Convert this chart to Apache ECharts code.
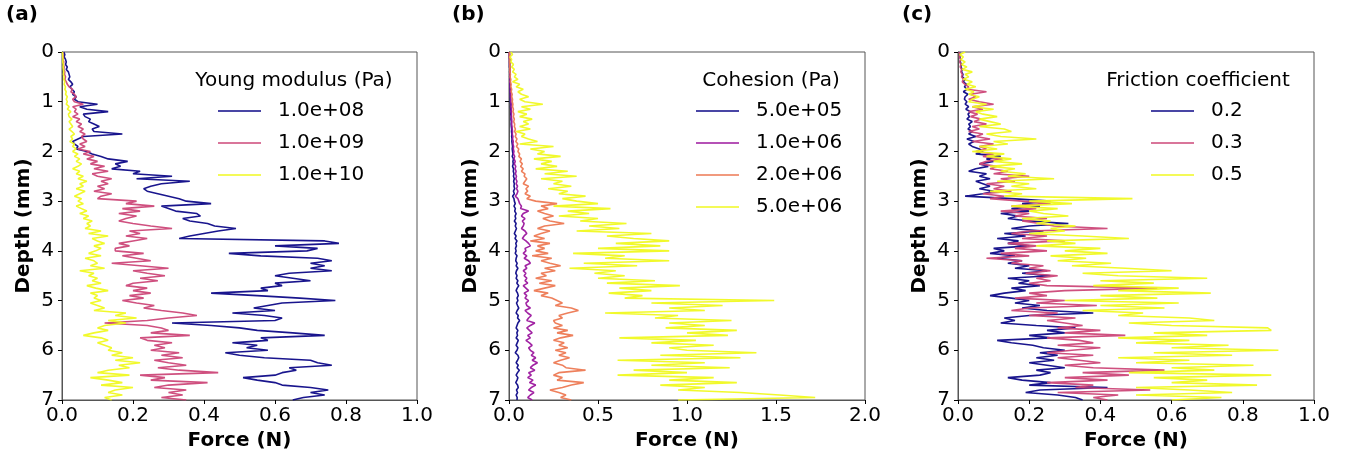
<!DOCTYPE html>
<html><head><meta charset="utf-8">
<script src="https://cdn.jsdelivr.net/npm/echarts@6/dist/echarts.min.js"></script>
<style>html,body{margin:0;padding:0;background:#fff}#c{width:1346px;height:458px}</style>
</head><body><div id="c"></div>
<script>
// Depth samples (mm)
const depth = [
0,0.05,0.1,0.15,0.2,0.25,0.3,0.35,0.4,0.45,
0.5,0.55,0.6,0.65,0.7,0.75,0.8,0.85,0.9,0.95,
1,1.05,1.1,1.15,1.2,1.25,1.3,1.35,1.4,1.45,
1.5,1.55,1.6,1.65,1.7,1.75,1.8,1.85,1.9,1.95,
2,2.05,2.1,2.15,2.2,2.25,2.3,2.35,2.4,2.45,
2.5,2.55,2.6,2.65,2.7,2.75,2.8,2.85,2.9,2.95,
3,3.05,3.1,3.15,3.2,3.25,3.3,3.35,3.4,3.45,
3.5,3.55,3.6,3.65,3.7,3.75,3.8,3.85,3.9,3.95,
4,4.05,4.1,4.15,4.2,4.25,4.3,4.35,4.4,4.45,
4.5,4.55,4.6,4.65,4.7,4.75,4.8,4.85,4.9,4.95,
5,5.05,5.1,5.15,5.2,5.25,5.3,5.35,5.4,5.45,
5.5,5.55,5.6,5.65,5.7,5.75,5.8,5.85,5.9,5.95,
6,6.05,6.1,6.15,6.2,6.25,6.3,6.35,6.4,6.45,
6.5,6.55,6.6,6.65,6.7,6.75,6.8,6.85,6.9,6.95,
7];

// Panel (a): Young modulus
const youngNames = ['1.0e+08','1.0e+09','1.0e+10'];
const young_1e8 = [
0.005,0.008,0.006,0.010,0.012,0.010,0.015,0.012,0.018,0.020,
0.022,0.018,0.025,0.030,0.022,0.028,0.035,0.030,0.040,0.035,
0.045,0.100,0.050,0.070,0.130,0.060,0.065,0.080,0.075,0.090,
0.105,0.085,0.090,0.170,0.060,0.045,0.030,0.035,0.045,0.040,
0.070,0.085,0.110,0.130,0.185,0.150,0.165,0.140,0.220,0.200,
0.310,0.210,0.360,0.280,0.250,0.230,0.240,0.270,0.300,0.330,
0.350,0.420,0.280,0.300,0.320,0.380,0.390,0.340,0.360,0.410,
0.430,0.490,0.440,0.400,0.360,0.330,0.740,0.780,0.600,0.720,
0.690,0.470,0.560,0.720,0.760,0.700,0.740,0.700,0.760,0.640,
0.600,0.650,0.700,0.600,0.620,0.560,0.580,0.420,0.550,0.670,
0.770,0.620,0.580,0.540,0.600,0.480,0.570,0.620,0.600,0.310,
0.420,0.500,0.550,0.650,0.740,0.560,0.580,0.480,0.550,0.520,
0.580,0.460,0.500,0.570,0.700,0.720,0.760,0.640,0.660,0.620,
0.600,0.510,0.550,0.600,0.620,0.700,0.750,0.700,0.740,0.680,
0.650];
const young_1e9 = [
0.002,0.003,0.004,0.003,0.005,0.004,0.006,0.005,0.008,0.007,
0.010,0.008,0.012,0.015,0.020,0.030,0.025,0.035,0.040,0.030,
0.035,0.060,0.030,0.040,0.035,0.045,0.030,0.050,0.040,0.055,
0.045,0.060,0.050,0.065,0.055,0.060,0.070,0.050,0.065,0.045,
0.080,0.060,0.090,0.070,0.100,0.080,0.120,0.090,0.130,0.085,
0.100,0.140,0.110,0.130,0.100,0.120,0.090,0.140,0.110,0.100,
0.210,0.180,0.260,0.170,0.220,0.160,0.210,0.180,0.160,0.200,
0.250,0.310,0.190,0.220,0.180,0.240,0.200,0.160,0.190,0.150,
0.150,0.230,0.170,0.210,0.250,0.140,0.220,0.300,0.200,0.240,
0.290,0.220,0.270,0.200,0.180,0.240,0.200,0.250,0.190,0.230,
0.170,0.210,0.260,0.230,0.280,0.340,0.380,0.300,0.240,0.120,
0.240,0.280,0.300,0.250,0.360,0.220,0.240,0.310,0.260,0.290,
0.250,0.330,0.280,0.340,0.260,0.300,0.350,0.270,0.330,0.440,
0.220,0.290,0.250,0.410,0.300,0.260,0.350,0.300,0.340,0.280,
0.350];
const young_1e10 = [
0.001,0.002,0.002,0.003,0.002,0.004,0.003,0.004,0.005,0.004,
0.006,0.005,0.008,0.006,0.010,0.008,0.012,0.010,0.015,0.012,
0.015,0.012,0.020,0.015,0.025,0.018,0.020,0.028,0.020,0.025,
0.030,0.020,0.028,0.035,0.025,0.030,0.022,0.035,0.030,0.040,
0.030,0.045,0.035,0.050,0.040,0.055,0.045,0.030,0.050,0.040,
0.060,0.045,0.070,0.050,0.060,0.040,0.065,0.050,0.035,0.055,
0.045,0.060,0.040,0.055,0.070,0.050,0.075,0.060,0.085,0.070,
0.080,0.065,0.110,0.075,0.130,0.085,0.100,0.120,0.090,0.110,
0.095,0.075,0.110,0.065,0.090,0.100,0.080,0.120,0.050,0.090,
0.075,0.100,0.085,0.110,0.070,0.095,0.130,0.080,0.100,0.090,
0.110,0.080,0.100,0.120,0.090,0.180,0.150,0.210,0.130,0.180,
0.120,0.100,0.130,0.090,0.060,0.110,0.130,0.100,0.120,0.140,
0.130,0.170,0.140,0.200,0.150,0.220,0.160,0.190,0.130,0.100,
0.190,0.080,0.130,0.170,0.110,0.200,0.150,0.130,0.170,0.120,
0.140];

// Panel (b): Cohesion
const cohesionNames = ['5.0e+05','1.0e+06','2.0e+06','5.0e+06'];
const coh_5e5 = [
0.002,0.003,0.002,0.004,0.003,0.004,0.003,0.005,0.004,0.005,
0.004,0.006,0.005,0.006,0.005,0.007,0.006,0.008,0.007,0.008,
0.008,0.010,0.009,0.010,0.011,0.010,0.012,0.011,0.013,0.012,
0.013,0.015,0.014,0.016,0.015,0.017,0.016,0.018,0.020,0.018,
0.020,0.022,0.018,0.025,0.022,0.024,0.020,0.026,0.024,0.028,
0.025,0.030,0.026,0.030,0.028,0.032,0.025,0.030,0.020,0.028,
0.030,0.035,0.028,0.036,0.032,0.040,0.034,0.038,0.030,0.040,
0.035,0.042,0.036,0.030,0.040,0.034,0.045,0.038,0.042,0.036,
0.040,0.035,0.045,0.040,0.038,0.046,0.040,0.050,0.042,0.038,
0.045,0.040,0.050,0.044,0.055,0.046,0.040,0.048,0.052,0.045,
0.050,0.042,0.048,0.055,0.046,0.040,0.052,0.048,0.060,0.050,
0.045,0.040,0.050,0.044,0.048,0.040,0.052,0.046,0.040,0.050,
0.045,0.035,0.050,0.055,0.048,0.040,0.052,0.045,0.058,0.048,
0.040,0.050,0.045,0.038,0.048,0.052,0.042,0.048,0.040,0.046,
0.045];
const coh_1e6 = [
0.002,0.002,0.003,0.003,0.004,0.003,0.004,0.005,0.004,0.005,
0.005,0.006,0.005,0.007,0.006,0.008,0.007,0.009,0.008,0.010,
0.010,0.012,0.011,0.013,0.012,0.014,0.013,0.015,0.016,0.015,
0.017,0.018,0.020,0.018,0.022,0.020,0.024,0.022,0.026,0.024,
0.028,0.025,0.032,0.028,0.035,0.030,0.038,0.034,0.040,0.036,
0.042,0.038,0.045,0.040,0.048,0.042,0.050,0.045,0.035,0.050,
0.055,0.060,0.070,0.065,0.110,0.080,0.070,0.090,0.075,0.085,
0.080,0.070,0.090,0.100,0.085,0.075,0.095,0.110,0.120,0.090,
0.095,0.080,0.100,0.085,0.110,0.120,0.090,0.100,0.080,0.095,
0.085,0.100,0.090,0.105,0.080,0.095,0.110,0.085,0.100,0.090,
0.110,0.095,0.100,0.120,0.090,0.105,0.125,0.110,0.100,0.145,
0.120,0.100,0.115,0.130,0.105,0.120,0.095,0.115,0.130,0.110,
0.120,0.140,0.125,0.150,0.130,0.160,0.135,0.120,0.145,0.110,
0.125,0.105,0.135,0.115,0.150,0.125,0.110,0.140,0.120,0.105,
0.130];
const coh_2e6 = [
0.002,0.003,0.002,0.004,0.003,0.005,0.004,0.006,0.005,0.008,
0.006,0.010,0.008,0.012,0.010,0.015,0.012,0.018,0.015,0.020,
0.018,0.022,0.020,0.025,0.022,0.028,0.024,0.030,0.026,0.032,
0.030,0.036,0.032,0.040,0.035,0.045,0.038,0.050,0.042,0.055,
0.050,0.060,0.055,0.070,0.062,0.075,0.065,0.080,0.070,0.090,
0.085,0.100,0.090,0.080,0.110,0.095,0.105,0.090,0.120,0.100,
0.150,0.270,0.180,0.220,0.160,0.200,0.250,0.190,0.230,0.310,
0.200,0.160,0.230,0.180,0.140,0.200,0.120,0.230,0.160,0.200,
0.150,0.220,0.130,0.240,0.180,0.230,0.290,0.200,0.260,0.180,
0.210,0.150,0.240,0.170,0.260,0.200,0.140,0.220,0.180,0.240,
0.270,0.300,0.260,0.350,0.390,0.330,0.280,0.300,0.250,0.260,
0.300,0.250,0.330,0.270,0.360,0.290,0.250,0.310,0.280,0.330,
0.260,0.320,0.280,0.340,0.290,0.250,0.300,0.320,0.430,0.280,
0.250,0.300,0.270,0.420,0.350,0.300,0.230,0.280,0.320,0.290,
0.350];
const coh_5e6 = [
0.010,0.020,0.005,0.015,0.010,0.025,0.015,0.030,0.020,0.040,
0.030,0.050,0.020,0.060,0.040,0.080,0.050,0.070,0.110,0.060,
0.090,0.190,0.070,0.120,0.050,0.100,0.060,0.130,0.080,0.110,
0.060,0.120,0.040,0.090,0.070,0.110,0.160,0.060,0.250,0.120,
0.200,0.160,0.290,0.140,0.240,0.180,0.270,0.150,0.330,0.200,
0.380,0.180,0.300,0.250,0.350,0.220,0.330,0.280,0.430,0.300,
0.380,0.500,0.250,0.570,0.330,0.450,0.280,0.500,0.400,0.660,
0.450,0.620,0.380,0.800,0.550,0.700,0.900,0.600,0.850,0.500,
0.900,0.360,0.650,0.540,0.900,0.420,0.720,0.340,0.600,0.480,
0.650,0.500,0.820,0.550,0.960,0.620,0.800,0.560,0.750,0.650,
1.490,0.800,1.200,0.900,1.100,0.540,0.950,0.820,1.250,0.900,
1.100,0.880,1.280,1.000,1.230,0.620,1.050,0.800,1.150,0.900,
1.000,1.390,0.850,1.300,0.610,1.100,0.800,1.240,0.700,1.000,
0.610,1.150,0.900,1.280,0.850,1.100,0.950,1.300,1.520,1.720,
0.950];

// Panel (c): Friction coefficient
const frictionNames = ['0.2','0.3','0.5'];
const fric_02 = [
0.004,0.006,0.005,0.008,0.006,0.010,0.008,0.012,0.010,0.014,
0.012,0.020,0.015,0.024,0.018,0.025,0.015,0.028,0.020,0.018,
0.025,0.020,0.030,0.022,0.035,0.028,0.032,0.025,0.040,0.030,
0.035,0.028,0.040,0.030,0.050,0.025,0.045,0.030,0.040,0.060,
0.070,0.050,0.120,0.080,0.100,0.060,0.085,0.050,0.030,0.080,
0.060,0.090,0.050,0.070,0.090,0.060,0.100,0.070,0.020,0.150,
0.260,0.180,0.230,0.150,0.200,0.120,0.170,0.140,0.200,0.310,
0.200,0.150,0.240,0.130,0.190,0.110,0.170,0.140,0.200,0.100,
0.130,0.090,0.160,0.110,0.180,0.140,0.200,0.160,0.250,0.180,
0.260,0.140,0.200,0.170,0.230,0.150,0.190,0.130,0.090,0.150,
0.200,0.160,0.230,0.180,0.250,0.380,0.200,0.130,0.160,0.120,
0.220,0.330,0.250,0.300,0.200,0.260,0.110,0.150,0.210,0.240,
0.300,0.230,0.280,0.220,0.270,0.200,0.250,0.300,0.220,0.260,
0.230,0.140,0.180,0.260,0.200,0.420,0.230,0.190,0.280,0.330,
0.350];
const fric_03 = [
0.003,0.005,0.004,0.007,0.005,0.008,0.006,0.010,0.008,0.012,
0.010,0.015,0.012,0.020,0.030,0.025,0.080,0.035,0.050,0.030,
0.060,0.100,0.040,0.070,0.030,0.055,0.035,0.065,0.045,0.080,
0.040,0.060,0.030,0.070,0.050,0.090,0.040,0.100,0.060,0.080,
0.050,0.100,0.070,0.125,0.080,0.060,0.110,0.090,0.140,0.100,
0.200,0.120,0.160,0.080,0.130,0.100,0.150,0.070,0.130,0.090,
0.180,0.260,0.150,0.220,0.120,0.200,0.160,0.250,0.180,0.230,
0.270,0.420,0.200,0.150,0.250,0.180,0.300,0.140,0.220,0.160,
0.250,0.120,0.200,0.080,0.180,0.150,0.240,0.200,0.260,0.190,
0.280,0.220,0.260,0.200,0.250,0.560,0.300,0.200,0.250,0.160,
0.300,0.220,0.390,0.200,0.150,0.280,0.200,0.330,0.250,0.300,
0.350,0.280,0.400,0.300,0.470,0.250,0.340,0.380,0.280,0.400,
0.320,0.250,0.380,0.280,0.340,0.400,0.300,0.380,0.580,0.350,
0.480,0.300,0.420,0.250,0.380,0.330,0.540,0.280,0.450,0.380,
0.420];
const fric_05 = [
0.020,0.005,0.015,0.008,0.020,0.010,0.025,0.012,0.040,0.020,
0.030,0.015,0.040,0.025,0.050,0.020,0.045,0.030,0.060,0.040,
0.030,0.080,0.040,0.100,0.050,0.070,0.110,0.060,0.090,0.120,
0.060,0.130,0.150,0.080,0.120,0.220,0.100,0.140,0.060,0.110,
0.040,0.130,0.080,0.150,0.100,0.180,0.090,0.160,0.120,0.190,
0.140,0.270,0.110,0.200,0.150,0.220,0.090,0.180,0.130,0.490,
0.200,0.320,0.150,0.280,0.200,0.240,0.310,0.180,0.260,0.220,
0.330,0.260,0.300,0.200,0.350,0.480,0.250,0.330,0.220,0.400,
0.300,0.420,0.260,0.360,0.280,0.430,0.320,0.470,0.600,0.350,
0.450,0.700,0.400,0.550,0.380,0.620,0.450,0.710,0.400,0.560,
0.300,0.620,0.400,0.580,0.350,0.520,0.450,0.650,0.720,0.480,
0.600,0.870,0.880,0.550,0.700,0.450,0.650,0.500,0.760,0.600,
0.900,0.550,0.770,0.450,0.650,0.500,0.830,0.600,0.720,0.480,
0.880,0.550,0.700,0.600,0.840,0.500,0.650,0.770,0.500,0.740,
0.600];

const xTicksMax = [1.0, 2.0, 1.0];
const xTicksStep = [0.2, 0.5, 0.2];

const C0 = '#0d0887', C33 = '#9c179e', C50 = '#cc4778', C67 = '#ed7953', C100 = '#f0f921';
const FONT = '"DejaVu Sans", sans-serif';

const panels = [
  {names: youngNames, values: [young_1e8, young_1e9, young_1e10], colors: [C0, C50, C100]},
  {names: cohesionNames, values: [coh_5e5, coh_1e6, coh_2e6, coh_5e6], colors: [C0, C33, C67, C100]},
  {names: frictionNames, values: [fric_02, fric_03, fric_05], colors: [C0, C50, C100]}
];

const gridPos = [
  {left: 62, top: 52, width: 355, height: 348},
  {left: 509, top: 52, width: 356, height: 348},
  {left: 958, top: 52, width: 356, height: 348}
];
const legendPos = [{left: 218, top: 101}, {left: 696, top: 101}, {left: 1151, top: 101}];
const legendTitles = [
  {text: 'Young modulus (Pa)', x: 294},
  {text: 'Cohesion (Pa)', x: 771},
  {text: 'Friction coefficient', x: 1198}
];
const panelLabels = [{text: '(a)', x: 6}, {text: '(b)', x: 452}, {text: '(c)', x: 902}];

const grid = [], xAxis = [], yAxis = [], series = [], legend = [], graphic = [];
panels.forEach((p, i) => {
  grid.push(Object.assign({show: true, borderColor: '#555', borderWidth: 1, backgroundColor: 'transparent'}, gridPos[i]));
  xAxis.push({
    gridIndex: i, type: 'value', min: 0, max: xTicksMax[i], interval: xTicksStep[i],
    name: 'Force (N)', nameLocation: 'middle', nameGap: 31,
    nameTextStyle: {fontFamily: FONT, fontSize: 20, fontWeight: 'bold', color: '#000'},
    axisLine: {show: true, onZero: false, lineStyle: {color: '#555', width: 1}},
    axisTick: {show: true, length: 4, lineStyle: {color: '#000', width: 1}},
    axisLabel: {fontFamily: FONT, fontSize: 20, color: '#000', margin: 6, formatter: v => v.toFixed(1)},
    splitLine: {show: false}
  });
  yAxis.push({
    gridIndex: i, type: 'value', inverse: true, min: 0, max: 7, interval: 1,
    name: 'Depth (mm)', nameLocation: 'middle', nameGap: 28, nameRotate: 90,
    nameTextStyle: {fontFamily: FONT, fontSize: 20, fontWeight: 'bold', color: '#000'},
    axisLine: {show: true, onZero: false, lineStyle: {color: '#555', width: 1}},
    axisTick: {show: true, length: 4, lineStyle: {color: '#000', width: 1}},
    axisLabel: {fontFamily: FONT, fontSize: 20, color: '#000', margin: 8},
    splitLine: {show: false}
  });
  p.names.forEach((n, k) => {
    series.push({
      type: 'line', name: n, xAxisIndex: i, yAxisIndex: i,
      data: depth.map((d, j) => [p.values[k][j], d]),
      symbol: 'none', showSymbol: false,
      lineStyle: {width: 1.6, color: p.colors[k], opacity: 0.95},
      itemStyle: {color: p.colors[k]},
      animation: false
    });
  });
  legend.push({
    data: p.names, orient: 'vertical', left: legendPos[i].left, top: legendPos[i].top,
    padding: 0, itemGap: 12, itemWidth: 43, itemHeight: 1.6, icon: 'rect', selectedMode: false,
    textStyle: {fontFamily: FONT, fontSize: 20, color: '#000', lineHeight: 20, padding: [0, 0, 0, 12]}
  });
  graphic.push({
    type: 'text', x: legendTitles[i].x, y: 81,
    style: {text: legendTitles[i].text, font: '20px ' + FONT, fill: '#000',
      textAlign: 'center', textVerticalAlign: 'middle', align: 'center', verticalAlign: 'middle'}
  });
  graphic.push({
    type: 'text', x: panelLabels[i].x, y: 15,
    style: {text: panelLabels[i].text, font: 'bold 20px ' + FONT, fill: '#000',
      textVerticalAlign: 'middle', verticalAlign: 'middle'}
  });
});

const chart = echarts.init(document.getElementById('c'), null, {renderer: 'canvas'});
chart.setOption({backgroundColor: '#fff', animation: false, grid, xAxis, yAxis, series, legend, graphic});
</script>
</body></html>
